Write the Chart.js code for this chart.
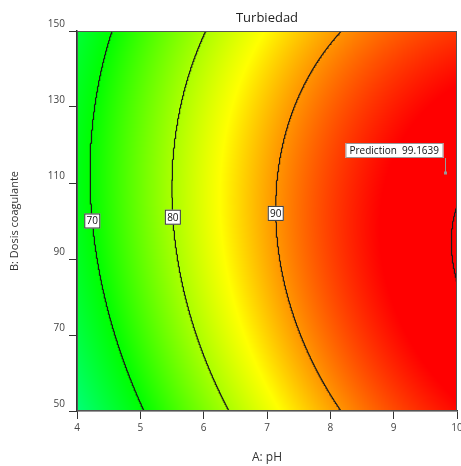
<!DOCTYPE html>
<html>
<head>
<meta charset="utf-8">
<script src="https://cdn.jsdelivr.net/npm/chart.js@4.4.0/dist/chart.umd.min.js"></script>
<style>
  html, body { margin: 0; padding: 0; background: #fff; }
  #canvas-wrapper { width: 461px; height: 466px; }
</style>
</head>
<body>
<div id="canvas-wrapper"><canvas id="canvas"></canvas></div>
<script>
// A: pH (columns) and B: coagulant dose (rows), turbidity removal at each node
var phValues = [4, 5, 6, 7, 8, 9, 10];
var doseValues = [50, 70, 90, 110, 130, 150];
var turbidity = [
  [60.64, 69.51, 77.23, 83.79, 89.20, 93.45, 96.54],
  [64.69, 73.32, 80.80, 87.12, 92.28, 96.30, 99.15],
  [67.21, 75.60, 82.84, 88.92, 93.85, 97.62, 100.14],
  [68.21, 76.36, 83.36, 89.20, 93.88, 97.41, 99.72],
  [67.68, 75.59, 82.35, 87.95, 92.39, 95.68, 97.82],
  [65.62, 73.29, 79.81, 85.17, 89.38, 92.43, 94.32]
];
var contourLevels = [70, 80, 90, 100];
var labelLevels = [70, 80, 90];
var labelDoses = [100, 101, 102];
var predictionPoint = [9.81, 112.6];
var predictionValue = '99.1639';
// blue, cyan, green, yellow, red
var colorStops = [30, 50, 70, 85, 97];

var FONT = '"Open Sans", "Noto Sans", sans-serif';

// smooth surface through the grid (catmull-rom, quadratic ghost nodes at the edges)
function cr(p0, p1, p2, p3, t) {
  return p1 + 0.5 * t * (p2 - p0 + t * (2 * p0 - 5 * p1 + 4 * p2 - p3 + t * (3 * (p1 - p2) + p3 - p0)));
}
function node(arr, i) {
  var n = arr.length;
  if (i < 0) return 3 * arr[0] - 3 * arr[1] + arr[2];
  if (i >= n) return 3 * arr[n - 1] - 3 * arr[n - 2] + arr[n - 3];
  return arr[i];
}
function interp1(arr, u) {
  var i = Math.max(0, Math.min(Math.floor(u), arr.length - 2));
  var t = u - i;
  return cr(node(arr, i - 1), node(arr, i), node(arr, i + 1), node(arr, i + 2), t);
}
function surface(ph, dose) {
  var u = (ph - phValues[0]) / (phValues[1] - phValues[0]);
  var v = (dose - doseValues[0]) / (doseValues[1] - doseValues[0]);
  var col = turbidity.map(function (row) { return interp1(row, u); });
  return interp1(col, v);
}

// pH where the surface reaches a level for a given dose (null if it doesn't)
function solvePh(level, dose) {
  var lo = phValues[0], hi = phValues[phValues.length - 1];
  var flo = surface(lo, dose) - level, fhi = surface(hi, dose) - level;
  if (flo * fhi > 0) return null;
  for (var k = 0; k < 40; k++) {
    var mid = (lo + hi) / 2;
    var fm = surface(mid, dose) - level;
    if (fm * flo <= 0) { hi = mid; } else { lo = mid; flo = fm; }
  }
  return (lo + hi) / 2;
}

var RGB = [[0, 0, 255], [0, 255, 255], [0, 255, 0], [255, 255, 0], [255, 0, 0]];
function colorAt(v) {
  if (v <= colorStops[0]) return RGB[0];
  for (var i = 0; i < colorStops.length - 1; i++) {
    if (v <= colorStops[i + 1]) {
      var f = (v - colorStops[i]) / (colorStops[i + 1] - colorStops[i]);
      return RGB[i].map(function (c, k) { return Math.round(c + (RGB[i + 1][k] - c) * f); });
    }
  }
  return RGB[RGB.length - 1];
}

// contour lines as datasets
var datasets = contourLevels.map(function (level) {
  var pts = [];
  for (var d = doseValues[0]; d <= doseValues[doseValues.length - 1] + 1e-9; d += 0.25) {
    var ph = solvePh(level, d);
    if (ph !== null) pts.push({ x: ph, y: d });
  }
  return {
    label: String(level),
    data: pts,
    showLine: true,
    borderColor: '#1a1a1a',
    borderWidth: 1.2,
    pointRadius: 0,
    tension: 0
  };
});

var surfacePlugin = {
  id: 'surface',
  beforeDatasetsDraw: function (chart) {
    var a = chart.chartArea, xs = chart.scales.x, ys = chart.scales.y;
    var w = Math.round(a.right - a.left), h = Math.round(a.bottom - a.top);
    var off = document.createElement('canvas');
    off.width = w; off.height = h;
    var octx = off.getContext('2d');
    var img = octx.createImageData(w, h);
    for (var py = 0; py < h; py++) {
      var dose = ys.getValueForPixel(a.top + py + 0.5);
      for (var px = 0; px < w; px++) {
        var ph = xs.getValueForPixel(a.left + px + 0.5);
        var c = colorAt(surface(ph, dose));
        var idx = (py * w + px) * 4;
        img.data[idx] = c[0]; img.data[idx + 1] = c[1]; img.data[idx + 2] = c[2]; img.data[idx + 3] = 255;
      }
    }
    octx.putImageData(img, 0, 0);
    chart.ctx.drawImage(off, a.left, a.top);
  },
  afterDatasetsDraw: function (chart) {
    var ctx = chart.ctx, a = chart.chartArea, xs = chart.scales.x, ys = chart.scales.y;
    ctx.save();
    // frame
    ctx.strokeStyle = '#555';
    ctx.lineWidth = 1;
    ctx.strokeRect(a.left + 0.5, a.top + 0.5, a.right - a.left - 1, a.bottom - a.top - 1);

    // contour labels
    ctx.font = '10px ' + FONT;
    ctx.textAlign = 'center';
    ctx.textBaseline = 'middle';
    labelLevels.forEach(function (level, i) {
      var ph = solvePh(level, labelDoses[i]);
      if (ph === null) return;
      var x = xs.getPixelForValue(ph), y = ys.getPixelForValue(labelDoses[i]);
      ctx.fillStyle = '#fff';
      ctx.fillRect(x - 8, y - 7.5, 16, 15);
      ctx.strokeStyle = '#333';
      ctx.strokeRect(x - 7.5, y - 7, 15, 14);
      ctx.fillStyle = '#111';
      ctx.fillText(String(level), x, y + 0.5);
    });

    // prediction flag
    var fx = Math.round(xs.getPixelForValue(predictionPoint[0])) + 0.5;
    var fy = Math.round(ys.getPixelForValue(predictionPoint[1]));
    var text = 'Prediction  ' + predictionValue;
    ctx.font = '10px ' + FONT;
    var tw = ctx.measureText(text).width;
    var bw = Math.round(tw + 8), bh = 15;
    var bx = fx - 2 - bw, by = fy - 15 - bh;
    ctx.strokeStyle = '#999';
    ctx.beginPath();
    ctx.moveTo(fx, by + bh);
    ctx.lineTo(fx, fy);
    ctx.stroke();
    ctx.fillStyle = '#999';
    ctx.fillRect(fx - 1.5, fy - 1.5, 3, 3);
    ctx.fillStyle = '#fff';
    ctx.fillRect(bx, by, bw, bh);
    ctx.strokeStyle = '#999';
    ctx.strokeRect(bx + 0.5, by + 0.5, bw - 1, bh - 1);
    ctx.fillStyle = '#111';
    ctx.textAlign = 'left';
    ctx.fillText(text, bx + 4, by + bh / 2 + 0.5);

    // chart title centred over the plot
    ctx.font = '13px ' + FONT;
    ctx.textAlign = 'center';
    ctx.fillStyle = '#222';
    ctx.fillText('Turbiedad', (a.left + a.right) / 2, 18);
    ctx.restore();
  }
};

var ctx = document.getElementById('canvas').getContext('2d');
var chart = new Chart(ctx, {
  type: 'scatter',
  data: { datasets: datasets },
  options: {
    responsive: true,
    maintainAspectRatio: false,
    animation: false,
    events: [],
    layout: { padding: { top: 31, right: 4, left: 0, bottom: 0 } },
    plugins: {
      legend: { display: false },
      tooltip: { enabled: false }
    },
    scales: {
      x: {
        type: 'linear',
        min: 4, max: 10,
        ticks: { stepSize: 1, color: '#444', font: { size: 10, family: FONT }, padding: 3 },
        grid: { drawOnChartArea: false, drawTicks: true, tickLength: 8, color: '#333' },
        border: { color: '#333', width: 1.5 },
        title: { display: true, text: 'A: pH', color: '#333', font: { size: 12, family: FONT }, padding: { top: 4, bottom: 1 } },
        afterFit: function (scale) {
          scale.height = 55;
          scale.paddingLeft = 0;
          scale.paddingRight = 0;
        }
      },
      y: {
        type: 'linear',
        min: 50, max: 150,
        ticks: { stepSize: 20, color: '#444', font: { size: 10, family: FONT }, padding: 4, labelOffset: -7 },
        grid: { drawOnChartArea: false, drawTicks: true, tickLength: 8, color: '#333' },
        border: { color: '#333', width: 1.5 },
        title: { display: true, text: 'B: Dosis coagulante', color: '#333', font: { size: 11, family: FONT }, padding: { top: 8, bottom: 4 } },
        afterFit: function (scale) {
          scale.width = 77;
          scale.paddingTop = 0;
          scale.paddingBottom = 0;
        }
      }
    }
  },
  plugins: [surfacePlugin]
});
</script>
</body>
</html>
